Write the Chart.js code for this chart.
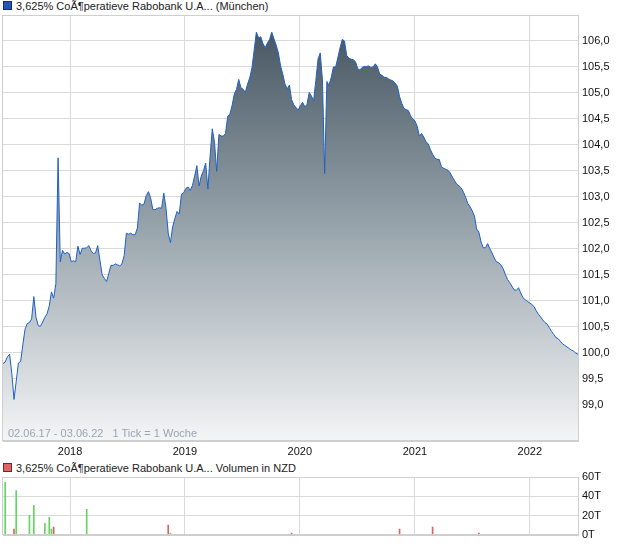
<!DOCTYPE html>
<html>
<head>
<meta charset="utf-8">
<script src="https://cdn.jsdelivr.net/npm/chart.js@4"></script>
<style>
  body { margin: 0; background: #fff; font-family: "Liberation Sans", Arial, sans-serif; }
  #wrap { position: relative; width: 620px; height: 546px; }
  canvas { position: absolute; left: 0; }
  .leg { position: absolute; left: 3px; font-size: 11px; color: #222; line-height: 12px; white-space: nowrap; }
  .leg .box { display: inline-block; width: 7px; height: 7px; margin-right: 4px; vertical-align: 0px; border: 1px solid #333; }
  .note { position: absolute; left: 8px; top: 427px; font-size: 11px; color: #9aa4b4; white-space: nowrap; }
</style>
</head>
<body>
<div id="wrap">
  <div class="leg" style="top:0px"><span class="box" style="background:#2455b5;border-color:#1a2f66"></span>3,625% CoÃ¶peratieve Rabobank U.A... (München)</div>
  <canvas id="main" width="620" height="462" style="top:0"></canvas>
  <div class="note">02.06.17 - 03.06.22 &nbsp; 1 Tick = 1 Woche</div>
  <div class="leg" style="top:462px"><span class="box" style="background:#e06464;border-color:#6b2a2a"></span>3,625% CoÃ¶peratieve Rabobank U.A... Volumen in NZD</div>
  <canvas id="vol" width="620" height="84" style="top:462px"></canvas>
</div>
<script>
// weekly closes from 02.06.17
const START = Date.UTC(2017, 5, 2);
const WEEK = 7 * 864e5;

const PRICES = [
  99.79, 99.82, 99.92, 99.97, 99.6, 99.10, 99.45, 99.80, 99.83, 100.15,
  100.45, 100.56, 100.58, 100.65, 101.08, 100.68, 100.52, 100.51, 100.59, 100.68,
  100.75, 100.90, 101.17, 101.05, 101.33, 103.75, 101.75, 101.97, 101.90, 101.93,
  101.91, 101.75, 101.77, 101.75, 102.05, 101.89, 102.01, 102.01, 102.02, 102.06,
  101.96, 101.91, 101.92, 102.06, 101.78, 101.50, 101.43, 101.37, 101.52, 101.68,
  101.68, 101.71, 101.69, 101.67, 101.71, 101.87, 102.30, 102.28, 102.30, 102.27,
  102.27, 102.40, 102.88, 102.84, 102.86, 103.02, 103.10, 102.98, 102.76, 102.75,
  102.78, 102.79, 102.78, 103.07, 102.78, 102.30, 102.12, 102.42, 102.58, 102.72,
  102.67, 103.05, 103.08, 103.16, 103.19, 103.12, 103.22, 103.40, 103.60, 103.21,
  103.40, 103.50, 103.65, 103.15, 103.78, 104.31, 104.05, 103.49, 104.20, 104.17,
  104.17, 104.22, 104.55, 104.59, 104.76, 104.98, 105.07, 105.26, 105.10, 105.07,
  105.01, 105.17, 105.29, 105.48, 105.82, 106.17, 106.06, 106.08, 105.95, 105.87,
  105.96, 106.03, 106.17, 106.04, 105.92, 105.77, 105.52, 105.36, 105.17, 105.08,
  105.15, 104.87, 104.77, 104.72, 104.67, 104.76, 104.82, 104.73, 104.78, 105.01,
  104.94, 104.85, 105.24, 105.65, 105.77, 105.25, 103.45, 105.22, 105.15, 105.30,
  105.50, 105.50, 105.68, 105.87, 106.03, 106.00, 105.72, 105.67, 105.65, 105.64,
  105.60, 105.47, 105.44, 105.49, 105.51, 105.51, 105.52, 105.49, 105.50, 105.56,
  105.50, 105.36, 105.34, 105.30, 105.30, 105.27, 105.25, 105.23, 105.19, 105.13,
  104.93, 104.80, 104.70, 104.68, 104.66, 104.56, 104.50, 104.46, 104.36, 104.17,
  104.22, 104.15, 104.06, 104.02, 103.91, 103.82, 103.75, 103.72, 103.72, 103.58,
  103.55, 103.53, 103.51, 103.46, 103.38, 103.31, 103.24, 103.21, 103.17, 103.09,
  102.99, 102.87, 102.81, 102.73, 102.63, 102.38, 102.32, 102.13, 102.02, 102.02,
  102.10, 102.00, 101.92, 101.82, 101.75, 101.73, 101.69, 101.62, 101.51, 101.41,
  101.35, 101.28, 101.21, 101.20, 101.25, 101.15, 101.06, 101.02, 100.99, 100.96,
  100.93, 100.89, 100.81, 100.74, 100.69, 100.63, 100.58, 100.55, 100.48, 100.41,
  100.35, 100.29, 100.27, 100.22, 100.17, 100.14, 100.11, 100.08, 100.05, 100.03,
  99.99, 99.97
];

const YEARS = [2018, 2019, 2020, 2021, 2022];
const Y_TICKS = [99.0, 99.5, 100.0, 100.5, 101.0, 101.5, 102.0, 102.5, 103.0, 103.5, 104.0, 104.5, 105.0, 105.5, 106.0];

// volume (thousand NZD), week index, up/down week
const VOL_WEEKS  = [1, 5, 6, 12, 14, 19, 21, 22, 23, 38, 75, 76, 131, 180, 195, 216];
const VOL_VALUES = [54.6, 6.4, 46.1, 20.7, 30.8, 12.5, 18.6, 6.4, 8.5, 26.8, 10.5, 2.4, 2.4, 6.4, 8.5, 2.4];
const VOL_UP     = [1, 0, 1, 1, 1, 1, 1, 1, 0, 1, 0, 1, 0, 0, 0, 0];
const VOL_TICKS  = [0, 20, 40, 60];

const END = START + (PRICES.length - 1) * WEEK;
const GRID = '#dadada';
const FRAME = '#cfcfcf';

Chart.defaults.font.family = '"Liberation Sans", Arial, sans-serif';
Chart.defaults.font.size = 11;
Chart.defaults.color = '#111';

const framePlugin = {
  id: 'frame',
  afterDatasetsDraw(chart) {
    const a = chart.chartArea, c = chart.ctx;
    c.save();
    c.strokeStyle = FRAME;
    c.lineWidth = 1;
    c.strokeRect(Math.round(a.left) - 0.5, Math.round(a.top) + 0.5, Math.round(a.right - a.left) + 1, Math.round(a.bottom - a.top) - 1);
    c.restore();
  }
};

function yearTicks(scale) {
  scale.ticks = YEARS.map(y => ({ value: Date.UTC(y, 0, 1) }));
}

new Chart(document.getElementById('main'), {
  type: 'line',
  data: {
    datasets: [{
      data: PRICES.map((v, i) => ({ x: START + i * WEEK, y: v })),
      borderColor: '#1f5fc8',
      borderWidth: 1,
      pointRadius: 0,
      tension: 0,
      fill: 'start',
      backgroundColor: ctx => {
        const a = ctx.chart.chartArea;
        if (!a) return '#9aa5ad';
        const g = ctx.chart.ctx.createLinearGradient(0, a.top, 0, a.bottom);
        g.addColorStop(0, '#41515d');
        g.addColorStop(0.5, '#98a4ac');
        g.addColorStop(1, '#f4f5f6');
        return g;
      }
    }]
  },
  options: {
    responsive: false,
    animation: false,
    layout: { padding: { left: 3, top: 15, right: 0, bottom: 0 } },
    plugins: { legend: { display: false }, tooltip: { enabled: false } },
    scales: {
      x: {
        type: 'linear',
        min: START,
        max: END,
        afterBuildTicks: yearTicks,
        afterFit: s => { s.height = 21; },
        grid: { color: GRID, drawTicks: false },
        border: { color: FRAME },
        ticks: { callback: v => new Date(v).getUTCFullYear(), padding: 4, maxRotation: 0, autoSkip: false, color: '#111' }
      },
      y: {
        position: 'right',
        min: 98.3,
        max: 106.5,
        afterBuildTicks: s => { s.ticks = Y_TICKS.map(v => ({ value: v })); },
        afterFit: s => { s.width = 42; },
        grid: { color: GRID, drawTicks: false },
        border: { color: FRAME },
        ticks: { callback: v => v.toFixed(1).replace('.', ','), padding: 4, color: '#111' }
      }
    }
  },
  plugins: [framePlugin]
});

new Chart(document.getElementById('vol'), {
  type: 'bar',
  data: {
    datasets: [{
      data: VOL_WEEKS.map((w, k) => ({ x: START + w * WEEK, y: VOL_VALUES[k] })),
      backgroundColor: VOL_UP.map(u => u ? '#62d662' : '#e05f5f'),
      barThickness: 1
    }]
  },
  options: {
    responsive: false,
    animation: false,
    layout: { padding: { left: 3, top: 15, right: 0, bottom: 0 } },
    plugins: { legend: { display: false }, tooltip: { enabled: false } },
    scales: {
      x: {
        type: 'linear',
        min: START,
        max: END,
        offset: false,
        afterBuildTicks: yearTicks,
        afterFit: s => { s.height = 10; },
        grid: { color: GRID, drawTicks: false, offset: false },
        border: { color: FRAME },
        ticks: { display: false }
      },
      y: {
        position: 'right',
        min: 0,
        max: 60,
        afterBuildTicks: s => { s.ticks = VOL_TICKS.map(v => ({ value: v })); },
        afterFit: s => { s.width = 42; },
        grid: { color: GRID, drawTicks: false },
        border: { color: FRAME },
        ticks: { callback: v => v + 'T', padding: 4, color: '#111' }
      }
    }
  },
  plugins: [framePlugin]
});
</script>
</body>
</html>
